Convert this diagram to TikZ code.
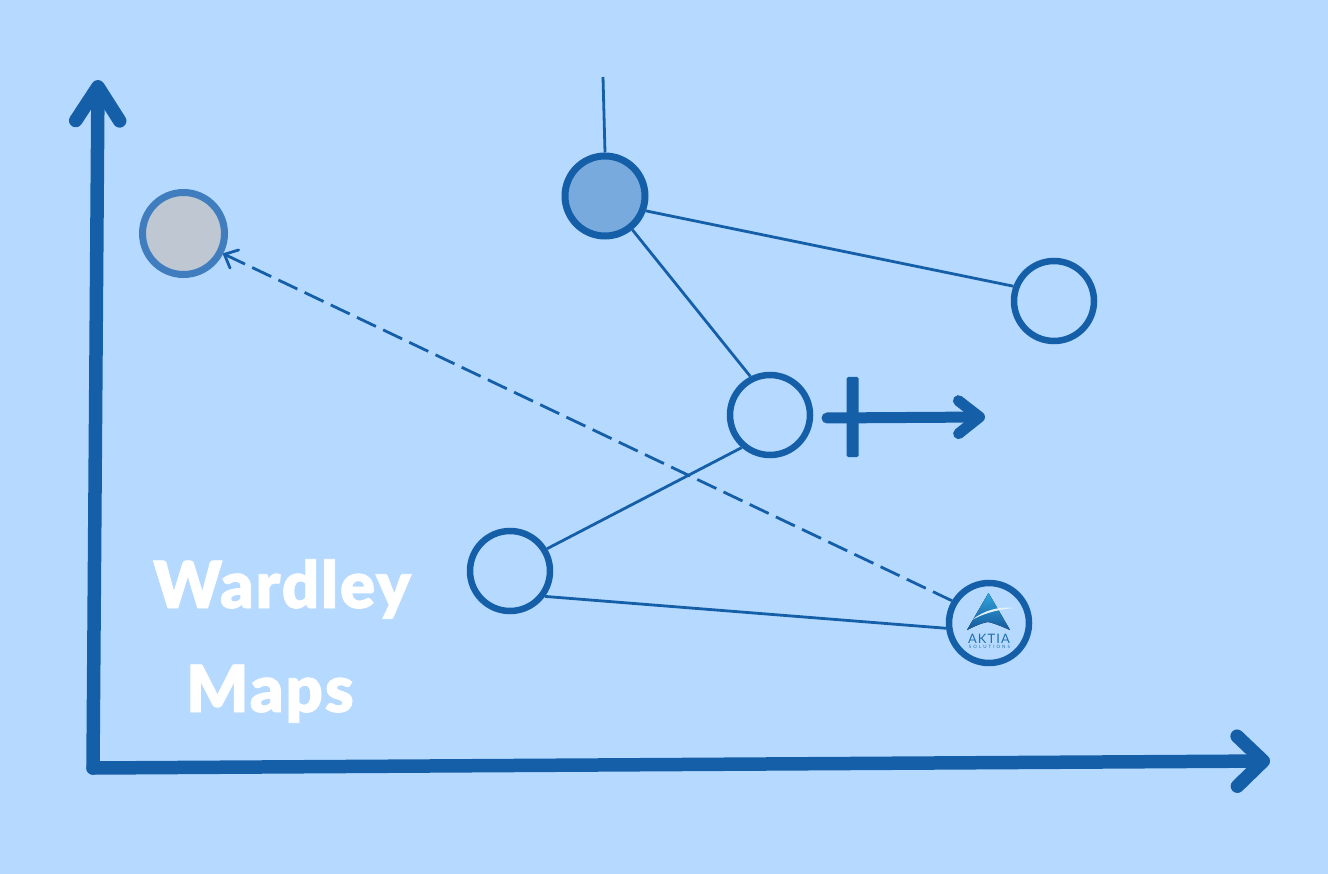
\documentclass[tikz,border=0pt]{standalone}
\usepackage{fontspec}
\setmainfont{Lato}[BoldFont={Lato Black}]
\usetikzlibrary{arrows.meta}
\definecolor{mapbg}{HTML}{B6DAFF}
\definecolor{mapline}{HTML}{155FA8}
\definecolor{ringgray}{HTML}{3F7DBE}
\definecolor{fillgray}{HTML}{BFC8D2}
\definecolor{fillblue}{HTML}{78AADD}
\definecolor{logotop}{HTML}{2FA5DC}
\definecolor{logolow}{HTML}{17599C}
\tikzset{
	comp/.style={circle,draw=mapline,line width=6.5pt,minimum size=80pt,inner sep=0pt},
	link/.style={draw=mapline,line width=2.8pt},
	axis/.style={draw=mapline,line width=13.5pt,line cap=round},
	title/.style={text=white,font=\fontsize{65}{65}\bfseries\addfontfeature{FakeBold=1.2,LetterSpace=3}\selectfont,inner sep=0pt,anchor=base}
}

\begin{document}
\begin{tikzpicture}[x=1pt,y=-1pt]
	\fill[mapbg] (0,0) rectangle (1328,874);
	\useasboundingbox (0,0) rectangle (1328,874);

	% axes
	\coordinate (origin) at (93,768);
	\coordinate (ytop) at (98,80);
	\coordinate (xend) at (1270,761);
	\draw[axis,-{Straight Barb[length=34pt,width=44pt,line width=13.5pt,round]}] (origin) -- (ytop);
	\draw[axis,-{Straight Barb[length=26pt,width=50pt,line width=13.5pt,round]}] (origin) -- (xend);

	% components
	\node[comp,draw=ringgray,fill=fillgray,line width=7pt,minimum size=82pt] (gray) at (183.5,233.5) {};
	\node[comp,fill=fillblue,line width=7pt] (blue) at (605,196) {};
	\node[comp] (right) at (1054,301) {};
	\node[comp] (center) at (770,415) {};
	\node[comp] (left) at (510,571) {};
	\node[comp] (aktia) at (989,623) {};

	% links
	\coordinate (need) at (603,77);
	\draw[link] (need) -- (blue.90);
	\draw[link] (blue.-20) -- (right.160);
	\draw[link] (blue.-51) -- (center.117);
	\draw[link] (center.229) -- (left.31);
	\draw[link] (left.-36) -- (aktia.187);
	\draw[link,dash pattern=on 21pt off 8pt,-{Straight Barb[length=11pt,width=20pt,line width=2.8pt,round]}] (aktia.149) -- (gray.-27);

	% evolution mark
	\coordinate (evostart) at (827,418);
	\coordinate (evoend) at (985,417);
	\draw[draw=mapline,line width=11pt,line cap=round,-{Straight Barb[length=21pt,width=33pt,line width=11pt,round]}] (evostart) -- (evoend);
	\node[fill=mapline,rounded corners=1.5pt,minimum width=12pt,minimum height=80pt,inner sep=0pt] (evobar) at (852.5,417) {};

	% logo
	\fill[top color=logotop,bottom color=logolow] (988.5,593) -- (1010,630) .. controls (1003,627) and (994,623) .. (988,622) .. controls (981,623) and (973,627) .. (967,630) -- cycle;
	\fill[white!85!logotop] (972,620) .. controls (984,610) and (1000,606) .. (1015,608) .. controls (1002,609) and (986,612) .. (972,620) -- cycle;
	\node[text=logolow!70!logotop,font=\fontsize{13}{13}\addfontfeature{LetterSpace=8}\selectfont,inner sep=0pt] (logoname) at (989,638.5) {AKTIA};
	\node[text=logolow!70!logotop,font=\fontsize{4.5}{4.5}\addfontfeature{LetterSpace=45}\selectfont,inner sep=0pt] (logosub) at (989.5,646.5) {SOLUTIONS};

	% title
	\node[title] (wardley) at (282,608) {Wardley};
	\node[title] (maps) at (270,712) {Maps};
\end{tikzpicture}
\end{document}
